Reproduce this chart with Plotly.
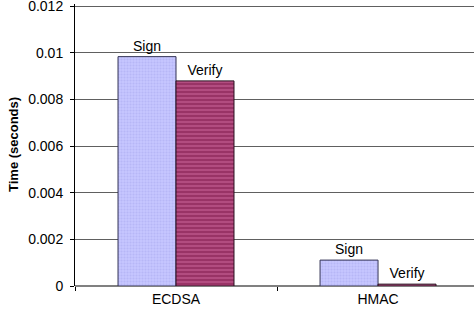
import plotly.graph_objects as go

categories = ["ECDSA", "HMAC"]
sign_values = [0.00983, 0.00111]
verify_values = [0.00879, 0.00008]
series_names = ["Sign", "Verify"]
y_tick_vals = [0, 0.002, 0.004, 0.006, 0.008, 0.01, 0.012]
y_tick_text = ["0", "0.002", "0.004", "0.006", "0.008", "0.01", "0.012"]

FONT = "Liberation Sans, Arial, sans-serif"
FS = 14
W, H = 474, 319
ML, MR, MT, MB = 75, 0, 4, 33
Y_TOP = 0.012 * (H - MT - MB) / 280.0

fig = go.Figure()
fig.add_trace(go.Bar(
    x=categories, y=sign_values, name=series_names[0],
    text=[series_names[0]] * len(categories), textposition="outside",
    textfont=dict(family=FONT, size=FS, color="black"),
    cliponaxis=False,
    marker=dict(color="#bcbcfa", line=dict(color="#333355", width=1),
                pattern=dict(shape=".", size=3, solidity=0.4,
                             fgcolor="#a8a8ee", bgcolor="#c6c6ff")),
))
fig.add_trace(go.Bar(
    x=categories, y=verify_values, name=series_names[1],
    text=[series_names[1]] * len(categories), textposition="outside",
    textfont=dict(family=FONT, size=FS, color="black"),
    cliponaxis=False,
    marker=dict(color="#a84478", line=dict(color="#2a1020", width=1),
                pattern=dict(shape="-", size=4, solidity=0.5,
                             fgcolor="#cc6699", bgcolor="#993366")),
))

fig.add_annotation(
    text="<b>Time (seconds)</b>", textangle=-90,
    xref="paper", yref="paper", x=(13 - ML) / (W - ML - MR), y=0.5,
    xanchor="center", yanchor="middle", showarrow=False,
    font=dict(family=FONT, size=13, color="black"),
)

fig.update_layout(
    width=W, height=H,
    margin=dict(l=ML, r=MR, t=MT, b=MB, autoexpand=False),
    paper_bgcolor="white", plot_bgcolor="white",
    showlegend=False,
    barmode="group", bargap=0.426, bargroupgap=0,
    font=dict(family=FONT, size=FS, color="black"),
    xaxis=dict(
        type="category", range=[-0.5, 1.475], automargin=False,
        ticks="outside", tickson="boundaries", ticklen=4, tickcolor="black",
        showgrid=False, showline=False,
        tickfont=dict(family=FONT, size=FS, color="black"),
        ticklabelstandoff=3,
    ),
    yaxis=dict(
        range=[0, Y_TOP], tickvals=y_tick_vals, ticktext=y_tick_text,
        automargin=False, ticklabeloverflow="allow",
        ticks="outside", ticklen=4, tickcolor="black",
        showgrid=True, gridcolor="#606060", gridwidth=1,
        showline=True, linecolor="black", linewidth=1,
        zeroline=True, zerolinecolor="#808080", zerolinewidth=2,
        tickfont=dict(family=FONT, size=FS, color="black"),
        ticklabelstandoff=4,
    ),
)

fig.write_html(
    "out.html",
    config={"displayModeBar": False},
    post_script="document.body.style.margin='0';document.body.style.overflow='hidden';",
)
